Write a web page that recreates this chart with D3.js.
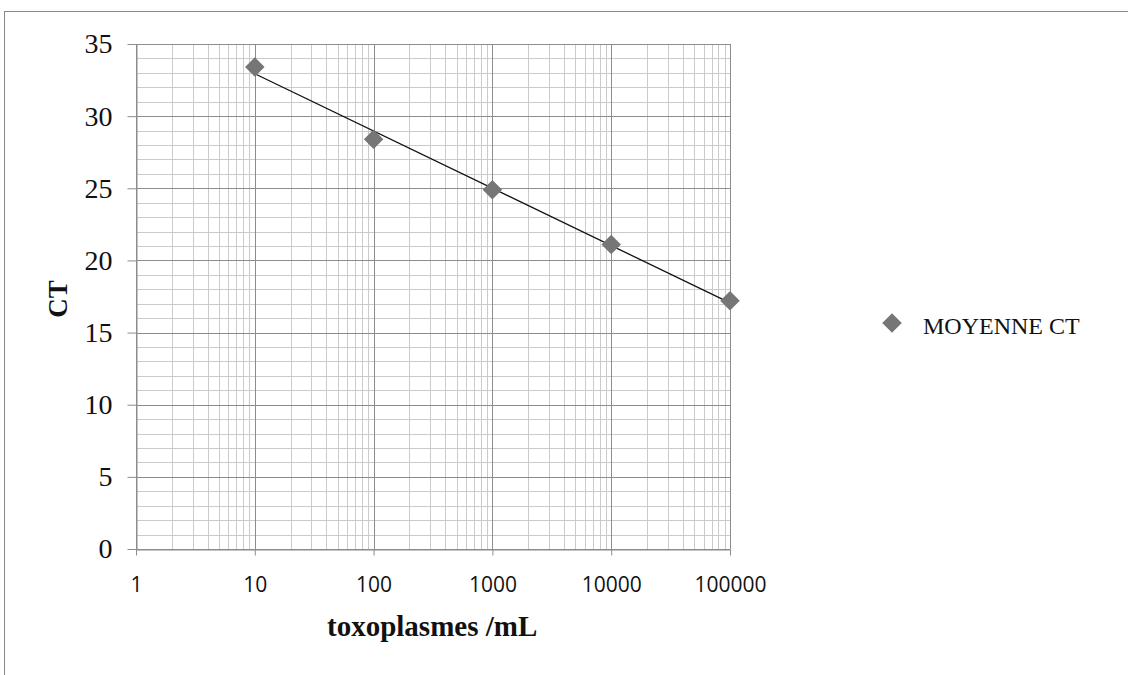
<!DOCTYPE html>
<html><head><meta charset="utf-8">
<script src="https://cdn.jsdelivr.net/npm/d3@7"></script>
<style>body{margin:0;background:#fff}svg{display:block}</style>
</head><body>
<script>
const concentrations = [10, 100, 1000, 10000, 100000];
const ctValues = [33.4, 28.4, 24.9, 21.1, 17.2];
const xTickValues = [1, 10, 100, 1000, 10000, 100000];
const yTickValues = [0, 5, 10, 15, 20, 25, 30, 35];
const seriesName = "MOYENNE CT";
const xTitle = "toxoplasmes /mL";
const yTitle = "CT";

const W = 1128, H = 675;
const svg = d3.select("body").append("svg").attr("width", W).attr("height", H);

// outer chart border
svg.append("rect").attr("x", 4.5).attr("y", 11.5).attr("width", W + 10).attr("height", H + 10)
  .attr("fill", "none").attr("stroke", "#8a8a8a").attr("stroke-width", 1);

const L = 136, R = 730, T = 44, B = 549;
const x = d3.scaleLog().domain([1, 100000]).range([L, R]);
const y = d3.scaleLinear().domain([0, 35]).range([B, T]);

const g = svg.append("g");
// minor grid
const minorX = [];
for (let d = 1; d < 100000; d *= 10) for (let k = 2; k <= 9; k++) minorX.push(d * k);
g.selectAll(".mx").data(minorX).enter().append("line")
  .attr("x1", d => Math.round(x(d)) + 0.5).attr("x2", d => Math.round(x(d)) + 0.5)
  .attr("y1", T).attr("y2", B).attr("stroke", "#cbcbcb").attr("stroke-width", 1);
const minorY = d3.range(0, 36).filter(v => v % 5 !== 0);
g.selectAll(".my").data(minorY).enter().append("line")
  .attr("x1", L).attr("x2", R)
  .attr("y1", d => Math.round(y(d)) + 0.5).attr("y2", d => Math.round(y(d)) + 0.5)
  .attr("stroke", "#cbcbcb").attr("stroke-width", 1);
// major grid
g.selectAll(".Mx").data(xTickValues).enter().append("line")
  .attr("x1", d => Math.round(x(d)) + 0.5).attr("x2", d => Math.round(x(d)) + 0.5)
  .attr("y1", T).attr("y2", B).attr("stroke", "#8c8c8c").attr("stroke-width", 1);
g.selectAll(".My").data(yTickValues).enter().append("line")
  .attr("x1", L).attr("x2", R)
  .attr("y1", d => Math.round(y(d)) + 0.5).attr("y2", d => Math.round(y(d)) + 0.5)
  .attr("stroke", "#8c8c8c").attr("stroke-width", 1);

// axes
const xAxis = d3.axisBottom(x).tickValues(xTickValues).tickFormat(d3.format("d")).tickSize(6).tickSizeOuter(0).tickPadding(22);
const gx = svg.append("g").attr("transform", `translate(0,${Math.round(B) + 0.5})`).call(xAxis);
gx.select(".domain").attr("stroke", "#8c8c8c");
gx.selectAll(".tick line").attr("stroke", "#8c8c8c");
gx.selectAll("text").attr("font-family", "'Open Sans', sans-serif").attr("font-size", 21).attr("fill", "#111");

const yAxis = d3.axisLeft(y).tickValues(yTickValues).tickSize(9).tickSizeOuter(0).tickPadding(15);
const gy = svg.append("g").attr("transform", `translate(${L + 0.5},0)`).call(yAxis);
gy.select(".domain").attr("stroke", "#8c8c8c");
gy.selectAll(".tick line").attr("stroke", "#8c8c8c");
gy.selectAll("text").attr("font-family", "'Liberation Serif', serif").attr("font-size", 28).attr("fill", "#111");

// trendline (linear regression on log10 x)
const lx = concentrations.map(d => Math.log10(d));
const mx = d3.mean(lx), my = d3.mean(ctValues);
const slope = d3.sum(lx.map((v, i) => (v - mx) * (ctValues[i] - my))) / d3.sum(lx.map(v => (v - mx) ** 2));
const icpt = my - slope * mx;
const x0 = d3.min(concentrations), x1 = d3.max(concentrations);
svg.append("line")
  .attr("x1", x(x0)).attr("y1", y(icpt + slope * Math.log10(x0)))
  .attr("x2", x(x1)).attr("y2", y(icpt + slope * Math.log10(x1)))
  .attr("stroke", "#111").attr("stroke-width", 1.3);

// markers
const diamond = d3.symbol().type(d3.symbolSquare).size(190);
svg.selectAll(".pt").data(concentrations).enter().append("path")
  .attr("d", diamond)
  .attr("transform", (d, i) => `translate(${x(d)},${y(ctValues[i])}) rotate(45)`)
  .attr("fill", "#767676");

// titles
svg.append("text").attr("x", 327).attr("y", 636).attr("text-anchor", "start")
  .attr("font-family", "'Liberation Serif', serif").attr("font-weight", "bold").attr("font-size", 29)
  .attr("fill", "#111").text(xTitle);
svg.append("text").attr("transform", `translate(67,299) rotate(-90)`).attr("text-anchor", "middle")
  .attr("font-family", "'Liberation Serif', serif").attr("font-weight", "bold").attr("font-size", 27)
  .attr("fill", "#111").text(yTitle);

// legend
svg.append("path").attr("d", d3.symbol().type(d3.symbolSquare).size(190))
  .attr("transform", "translate(892,323) rotate(45)").attr("fill", "#767676");
svg.append("text").attr("x", 923).attr("y", 334)
  .attr("font-family", "'Liberation Serif', serif").attr("font-size", 24).attr("fill", "#111").text(seriesName);
</script>
</body></html>
